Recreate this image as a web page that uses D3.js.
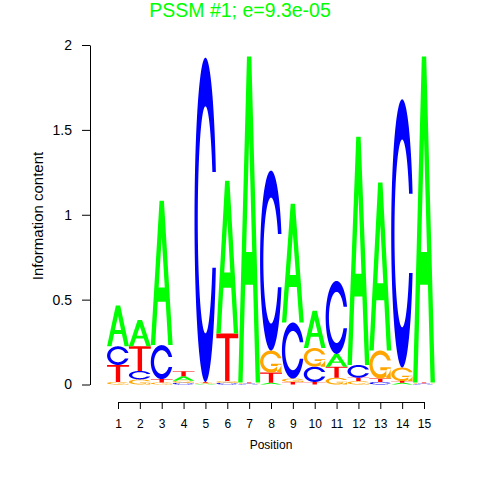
<!DOCTYPE html>
<html><head><meta charset="utf-8">
<script src="https://cdn.jsdelivr.net/npm/d3@7"></script>
<style>body{margin:0;background:#fff}svg{display:block}text{font-family:"Liberation Sans",Arial,sans-serif}</style>
</head><body>
<svg id="chart" width="480" height="480"></svg>
<script>
const title = "PSSM #1; e=9.3e-05";
const positions = [1,2,3,4,5,6,7,8,9,10,11,12,13,14,15];
const bases = ["A","C","G","T"];
const valA = [0.24,0.155,0.85,0.026,0.005,0.90,1.92,0.01,0.70,0.22,0.075,1.345,0.99,0.01,1.92];
const valC = [0.11,0.05,0.20,0.010,1.91,0.01,0.004,1.06,0.33,0.09,0.43,0.075,0.015,1.58,0.004];
const valG = [0.015,0.03,0.012,0.012,0.005,0.01,0.004,0.13,0.02,0.11,0.04,0.02,0.165,0.08,0.004];
const valT = [0.10,0.145,0.02,0.03,0.005,0.28,0.004,0.06,0.015,0.015,0.065,0.02,0.02,0.01,0.004];
const yTicks = [0,0.5,1,1.5,2];
const colors = {A:"#00FF00", C:"#0000FF", G:"#FFA500", T:"#FF0000"};

const svg = d3.select("#chart");
const x = d3.scaleLinear().domain([1,15]).range([118,424]);
const y = d3.scaleLinear().domain([0,2]).range([384.5,45]);

// letter shapes in unit square (seqLogo style)
function cShape(){
  const n=100, a1=d3.range(n).map(i=>0.3+Math.PI/2+(Math.PI-(0.3+Math.PI/2))*i/(n-1));
  const a2=d3.range(n).map(i=>Math.PI+0.5*Math.PI*i/(n-1));
  const xl=[...a1.map(a=>0.5+0.5*Math.sin(a)),...a2.map(a=>0.5+0.5*Math.sin(a))];
  const yl=[...a1.map(a=>0.5+0.5*Math.cos(a)),...a2.map(a=>0.5+0.5*Math.cos(a))];
  const outer=[];
  xl.forEach((v,i)=>outer.push([v,yl[i]]));
  for(let i=xl.length-1;i>=0;i--) outer.push([xl[i],1-yl[i]]);
  const maxY1=Math.max(...a1.map(a=>0.5+0.5*Math.cos(a)));
  let xi1=a1.map(a=>0.5+0.35*Math.sin(a)), yi1=a1.map(a=>0.5+0.35*Math.cos(a));
  const keep=yi1.map(v=>v<=maxY1);
  xi1=xi1.filter((v,i)=>keep[i]); yi1=yi1.filter((v,i)=>keep[i]);
  yi1[0]=maxY1;
  const xi=[...xi1,...a2.map(a=>0.5+0.35*Math.sin(a))];
  const yi=[...yi1,...a2.map(a=>0.5+0.35*Math.cos(a))];
  const inner=[];
  xi.forEach((v,i)=>inner.push([v,yi[i]]));
  for(let i=xi.length-1;i>=0;i--) inner.push([xi[i],1-yi[i]]);
  const r1=Math.max(...a1.map(a=>0.5+0.5*Math.sin(a)));
  return {poly:[...outer,...inner.reverse()], r1};
}
const cs = cShape();
const shapes = {
  A: [[[0,0],[0.4,1],[0.6,1],[1,0],[0.8,0],[0.68,0.3],[0.32,0.3],[0.2,0]],[[0.36,0.4],[0.5,0.75],[0.64,0.4]]],
  T: [[[0,1],[1,1],[1,0.9],[0.6,0.9],[0.6,0],[0.4,0],[0.4,0.9],[0,0.9]]],
  C: [cs.poly],
  G: [cs.poly, [[cs.r1,0.4],[0.5,0.4],[0.5,0.3],[cs.r1-0.2,0.3],[cs.r1-0.2,0],[cs.r1,0]]]
};

const values = {A:valA, C:valC, G:valG, T:valT};
const stacks = [];
positions.forEach((p,i)=>{
  const items = bases.map(b=>({b, h:values[b][i]})).sort((a,b)=>a.h-b.h);
  let base=0;
  items.forEach(it=>{ stacks.push({pos:p, b:it.b, y0:base, h:it.h}); base+=it.h; });
});

const g = svg.append("g");
stacks.forEach(s=>{
  const d = shapes[s.b].map(poly=>{
    return "M"+poly.map(([ux,uy])=>[x(s.pos-0.5+ux), y(s.y0+uy*s.h)].map(v=>v.toFixed(2)).join(",")).join("L")+"Z";
  }).join("");
  g.append("path").attr("d", d).attr("fill", colors[s.b]).attr("fill-rule","evenodd");
});

// y axis
const ya = svg.append("g").attr("transform","translate(90,0)")
  .call(d3.axisLeft(y).tickValues(yTicks).tickFormat(d=>String(d)).tickSize(8).tickPadding(10).tickSizeOuter(0));
ya.selectAll("text").attr("font-size",14).attr("fill","#000").attr("font-family","Liberation Sans, Arial, sans-serif");
ya.selectAll("line,path").attr("stroke","#000");

// x axis
const xa = svg.append("g").attr("transform","translate(0,402)")
  .call(d3.axisBottom(x).tickValues(positions).tickFormat(d=>String(d)).tickSize(7).tickPadding(10).tickSizeOuter(0));
xa.selectAll("text").attr("font-size",12).attr("fill","#000").attr("font-family","Liberation Sans, Arial, sans-serif");
xa.selectAll("line,path").attr("stroke","#000");

svg.append("text").attr("x",271).attr("y",449).attr("text-anchor","middle")
  .attr("font-size",12).text("Position");
svg.append("text").attr("transform","translate(43,216) rotate(-90)").attr("text-anchor","middle")
  .attr("font-size",15).text("Information content");
svg.append("text").attr("x",240).attr("y",17).attr("text-anchor","middle")
  .attr("font-size",19.5).attr("fill","#00FF00").text(title);
</script>
</body></html>
